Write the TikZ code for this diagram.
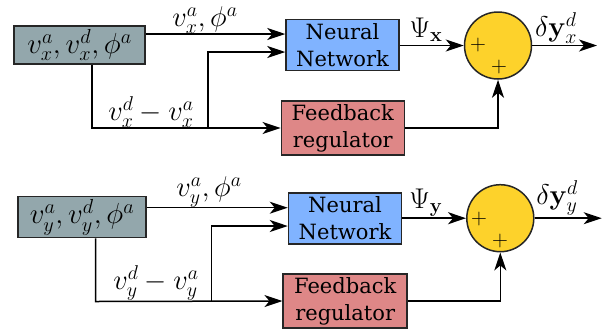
\documentclass[tikz,border=0pt]{standalone}
\usepackage{fix-cm}
\usepackage[no-math]{fontspec}
\setmainfont{DejaVu Serif}
\usetikzlibrary{arrows.meta}
\definecolor{boxgray}{HTML}{93A7AC}
\definecolor{nnblue}{HTML}{80B3FF}
\definecolor{fbred}{HTML}{DE8787}
\definecolor{sumyellow}{HTML}{FDD22B}
\tikzset{
  blk/.style={draw=black!85, line width=1.5pt, inner sep=0pt, align=center,
    font=\fontsize{21}{27}\selectfont},
  inbox/.style={blk, fill=boxgray, font=\fontsize{29}{30}\selectfont},
  nnbox/.style={blk, fill=nnblue, minimum width=113pt, minimum height=51pt},
  fbbox/.style={blk, fill=fbred, minimum width=123pt, minimum height=54pt},
  sumnode/.style={circle, draw=black!85, line width=1.5pt, fill=sumyellow,
    minimum size=67pt, inner sep=0pt},
  plus/.style={inner sep=0pt, font=\fontsize{22}{22}\selectfont},
  lbl/.style={inner sep=0pt, font=\fontsize{28.5}{30}\selectfont},
  wire/.style={line width=1.5pt},
  arr/.style={wire, -{Stealth[length=18pt,width=12pt,inset=5pt]}},
}
\begin{document}
\begin{tikzpicture}[x=1pt,y=-1pt]
\useasboundingbox (0,0) rectangle (607,333);

% ---------- x channel ----------
\node[inbox, minimum width=131pt, minimum height=38pt] (gx) at (79.5,45) {$v_x^a, v_x^d, \phi^a$};
\node[nnbox] (nnx) at (342.5,45.2) {Neural\\Network};
\node[fbbox] (fbx) at (342.8,128) {Feedback\\regulator};
\node[sumnode] (sx) at (498,45.5) {};
\node[plus] (px1) at (478,45) {$+$};
\node[plus] (px2) at (499,67) {$+$};

\coordinate (ax) at (0,34);
\coordinate (jx) at (92,128);
\coordinate (kx) at (208,128);
\coordinate (mx) at (208,52);
\coordinate (ox) at (597,45.5);

\draw[arr] (gx.east |- ax) -- (nnx.west |- ax);
\draw[arr] (gx.south -| jx) -- (jx) -- (fbx.west);
\draw[arr] (kx) -- (mx) -- (nnx.west |- mx);
\draw[arr] (nnx.east |- sx.west) -- (sx.west);
\draw[arr] (fbx.east) -| (sx.south);
\draw[arr] (sx.east) -- (ox);

\node[lbl] (lx1) at (205,20) {$v_x^a, \phi^a$};
\node[lbl] (lx2) at (151,112) {$v_x^d - v_x^a$};
\node[lbl] (lx3) at (426,30) {$\Psi_{\mathbf{x}}$};
\node[lbl] (lx4) at (556,28) {$\delta\mathbf{y}_x^d$};

% ---------- y channel ----------
\node[inbox, minimum width=128pt, minimum height=41pt] (gy) at (82,217.2) {$v_y^a, v_y^d, \phi^a$};
\node[nnbox] (nny) at (345,218.5) {Neural\\Network};
\node[fbbox, minimum width=124pt] (fby) at (345.2,301) {Feedback\\regulator};
\node[sumnode] (sy) at (500.3,218.2) {};
\node[plus] (py1) at (479,219.3) {$+$};
\node[plus] (py2) at (500,241) {$+$};

\coordinate (ay) at (0,207.7);
\coordinate (jy) at (95.7,301.5);
\coordinate (ky) at (211.7,301.5);
\coordinate (my) at (211.7,226);
\coordinate (oy) at (601.7,218.2);

\draw[arr] (gy.east |- ay) -- (nny.west |- ay);
\draw[arr] (gy.south -| jy) -- (jy) -- (fby.west);
\draw[arr] (ky) -- (my) -- (nny.west |- my);
\draw[arr] (nny.east |- sy.west) -- (sy.west);
\draw[arr] (fby.east) -| (sy.south);
\draw[arr] (sy.east) -- (oy);

\node[lbl] (ly1) at (209,192) {$v_y^a, \phi^a$};
\node[lbl] (ly2) at (156,283) {$v_y^d - v_y^a$};
\node[lbl] (ly3) at (426,203) {$\Psi_{\mathbf{y}}$};
\node[lbl] (ly4) at (557,198) {$\delta\mathbf{y}_y^d$};
\end{tikzpicture}
\end{document}
